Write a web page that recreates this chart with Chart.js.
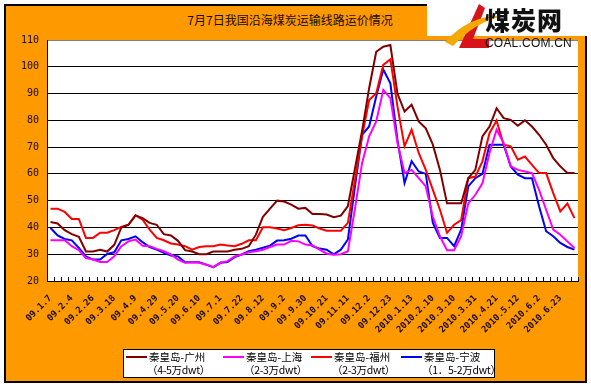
<!DOCTYPE html>
<html><head><meta charset="utf-8">
<script src="https://cdn.jsdelivr.net/npm/chart.js@4/dist/chart.umd.min.js"></script>
<style>
html,body{margin:0;padding:0;background:#fff;}
#wrap{position:relative;width:591px;height:386px;overflow:hidden;background:#fff;font-family:"Noto Sans CJK SC",sans-serif;}
#panel{position:absolute;left:4px;top:4px;width:583px;height:379px;box-sizing:border-box;border:2px solid #000;background:#FF9900;}
#title{position:absolute;left:140px;width:300px;top:11px;text-align:center;font-size:12px;color:#1a0a00;}
#logo{position:absolute;left:427px;top:0;width:164px;height:36px;background:#fff;z-index:2;}
#logo .cn{position:absolute;left:58px;top:4px;font-size:25px;font-weight:900;color:#111;letter-spacing:1px;line-height:30px;}
#logo .en{position:absolute;left:58px;top:36px;font-size:12px;font-family:"Liberation Sans",Arial,sans-serif;color:#111;line-height:14px;letter-spacing:0.2px;}
#c{position:absolute;left:0;top:0;z-index:1;}
#legend{position:absolute;left:123px;top:349px;width:372px;height:29px;box-sizing:border-box;background:#fff;border:1px solid #000;z-index:2;}
.li{position:absolute;top:0;font-size:10.5px;line-height:13px;color:#000;white-space:nowrap;}
.li .ln{position:absolute;top:6px;height:2px;width:21px;}
.li .t1{position:absolute;top:0;}
.li .t2{position:absolute;top:13px;letter-spacing:-0.3px;}
</style></head>
<body>
<div id="wrap">
  <div id="panel"></div>
  <div id="title">7月7日我国沿海煤炭运输线路运价情况</div>
  <canvas id="c" width="591" height="386"></canvas>
  <div id="logo">
    <svg width="60" height="52" style="position:absolute;left:16px;top:2px;overflow:visible" viewBox="0 0 60 52">
      <path d="M36 2 L16 46 L46 46 L46 37 L30 37 L42 6 Z" fill="#d7141a"/>
      <path d="M2 40 Q28 12 60 14 Q32 20 10 44 Z" fill="#f5a800"/>
    </svg>
    <div class="cn">煤炭网</div>
    <div class="en">COAL.COM.CN</div>
  </div>
  <div id="legend"></div>
</div>
<script>
const categories = ["09.1.7","09.1.14","09.1.21","09.2.4","09.2.11","09.2.18","09.2.26","09.3.4","09.3.11","09.3.18",
"09.3.25","09.4.1","09.4.9","09.4.15","09.4.22","09.4.29","09.5.6","09.5.13","09.5.20","09.5.27",
"09.6.3","09.6.10","09.6.17","09.6.24","09.7.1","09.7.8","09.7.15","09.7.22","09.7.29","09.8.5",
"09.8.12","09.8.19","09.8.26","09.9.2","09.9.9","09.9.16","09.9.30","09.10.9","09.10.14","09.10.21",
"09.10.28","09.11.4","09.11.11","09.11.18","09.11.25","09.12.2","09.12.9","09.12.16","09.12.23","09.12.30",
"2010.1.6","2010.1.13","2010.1.20","2010.1.27","2010.2.10","2010.2.24","2010.3.3","2010.3.10","2010.3.17","2010.3.24",
"2010.3.31","2010.4.7","2010.4.14","2010.4.21","2010.4.28","2010.5.5","2010.5.12","2010.5.19","2010.5.26","2010.6.2",
"2010.6.9","2010.6.16","2010.6.23","2010.6.30","2010.7.7"];

const qhdGuangzhou = [42,41.5,39,37.5,36.5,31,31,31.7,31,33.5,
40,41,44.5,43.5,41.7,41,37.5,37,35,31.5,
31,30,30,31,31,31,31.7,32,33,37.3,
44,47,50,49.7,48.5,47,47.3,45,45,44.8,
43.8,44.4,48,62,76,92,105.6,107.5,108.1,90,
83.3,85.8,79.6,77,70.9,61.5,49,49,49,58.4,
61.5,74,77.7,84.5,80.8,80.2,78,80,77.7,74.6,
70.9,65.9,62.8,60.3,60.3];

const qhdShanghai = [35.2,35.2,35.2,33,31.5,28.6,28,27.1,27.1,29.2,
33,34.8,35.5,33.2,33,32,31.1,29.9,28,26.8,
27,26.8,26.1,25.2,26.8,27.4,29.2,29.9,30.7,31.1,
31.7,32.7,33.6,33.6,35,34.8,33.6,33.3,31.7,30.2,
29.8,30,31.1,47,64,74,79.6,91.4,88.3,71.5,
60.3,61.5,58.4,55.3,44,36.7,31.5,31.5,36.7,49,
52.2,56.5,67.8,76.5,71.5,62.8,61.5,60.9,60.3,54,
46.6,39.2,37.3,34.8,32.3];

const qhdFuzhou = [47,47,45.8,43.2,43.2,36.1,36.1,38,38,39,
40.2,41,44.5,42.9,39.2,36.1,35.2,34,33.6,33,
31.7,32.7,33,33,33.6,33.3,33,33.9,35.2,35.2,
40.1,40.1,39.6,39,39.8,40.8,41,40.7,39.6,38.8,
38.8,38.8,41.7,57.8,74,87.6,90.1,100.7,102.8,85.2,
70.3,76.5,67.8,61.5,54,46.6,38,41,42.7,58.4,
59,64.7,75.2,79.9,70.9,70.3,65.3,66.5,63.4,60.3,
60.3,52.8,46,48.9,43.5];

const qhdNingbo = [39.8,37,35.7,35.2,32.4,29.2,28,28,30.1,30.7,
35.2,35.7,36.7,34.5,32.7,31.7,30.5,29.5,29.2,27,
27,27,26.1,25.2,26.8,27.1,28.9,29.9,31.1,31.7,
32.4,33.2,35.1,35.2,35.8,37,37,33,32.1,31.7,
30,31.7,35.5,55.3,74.6,77.7,88.9,99,93.8,72.7,
56.6,64.7,60.9,60,41.7,36.1,36.1,33,39.2,55.3,
58.4,60,70.9,70.9,70.9,62.8,59.7,58.4,58.4,47.9,
38.6,36.7,34.2,32.7,31.7];

const seriesNames = ["秦皇岛-广州","秦皇岛-上海","秦皇岛-福州","秦皇岛-宁波"];
const seriesSubs = ["（4-5万dwt）","（2-3万dwt）","（2-3万dwt）","（1．5-2万dwt）"];
const seriesColors = ["#800000","#FF00FF","#FF0000","#0000FF"];
const yTicks = [20,30,40,50,60,70,80,90,100,110];

// HTML legend
const legendPos = [2, 99, 187, 277];
const lg = document.getElementById('legend');
seriesNames.forEach((n, i) => {
  const d = document.createElement('div');
  d.className = 'li';
  d.style.left = legendPos[i] + 'px';
  d.innerHTML = '<div class="ln" style="left:0;background:' + seriesColors[i] + '"></div>' +
    '<div class="t1" style="left:23px">' + n + '</div>' +
    '<div class="t2" style="left:21px">' + seriesSubs[i] + '</div>';
  lg.appendChild(d);
});

const bgPlugin = {
  id: 'bg',
  beforeDraw(chart) {
    const a = chart.chartArea, ctx = chart.ctx;
    ctx.save();
    ctx.fillStyle = '#fff';
    ctx.fillRect(a.left, a.top, a.right - a.left, a.bottom - a.top);
    ctx.restore();
  },
  afterDraw(chart) {
    const x = chart.scales.x, a = chart.chartArea, ctx = chart.ctx;
    const half = (x.getPixelForValue(1) - x.getPixelForValue(0)) / 2;
    ctx.save();
    ctx.strokeStyle = '#000';
    ctx.lineWidth = 1;
    ctx.beginPath();
    for (let i = 0; i <= categories.length; i++) {
      const px = Math.round(x.getPixelForValue(i) - half) + 0.5;
      ctx.moveTo(px, a.bottom);
      ctx.lineTo(px, a.bottom - 4);
    }
    ctx.stroke();
    ctx.restore();
  }
};

const data = [qhdGuangzhou, qhdShanghai, qhdFuzhou, qhdNingbo];
new Chart(document.getElementById('c'), {
  type: 'line',
  data: {
    labels: categories,
    datasets: data.map((d, i) => ({
      label: seriesNames[i],
      data: d,
      borderColor: seriesColors[i],
      backgroundColor: seriesColors[i],
      borderWidth: 2,
      pointRadius: 0,
      tension: 0,
      fill: false
    }))
  },
  options: {
    responsive: false,
    animation: false,
    devicePixelRatio: 1,
    layout: { padding: { top: 40, right: 13, bottom: 0, left: 0 } },
    plugins: { legend: { display: false }, tooltip: { enabled: false }, title: { display: false } },
    scales: {
      x: {
        offset: true,
        afterFit(s) { s.height = 105; },
        grid: { display: false },
        border: { display: true, color: '#000', width: 1 },
        ticks: {
          autoSkip: false,
          maxRotation: 45,
          minRotation: 45,
          padding: 4,
          color: '#1a0a00',
          font: { family: 'DejaVu Sans Mono', size: 9, weight: 'bold' },
          callback: (v, i) => (i % 3 === 0 ? categories[i] : '')
        }
      },
      y: {
        min: 20, max: 110,
        afterFit(s) { s.width = 47; },
        afterBuildTicks(s) { s.ticks = yTicks.map(v => ({ value: v })); },
        grid: {
          color: ctx => (ctx.tick && ctx.tick.value === 110 ? '#808080' : '#000'),
          lineWidth: 1,
          drawTicks: false
        },
        border: { display: true, color: '#000', width: 1 },
        ticks: {
          padding: 8,
          color: '#1a0a00',
          font: { family: 'DejaVu Sans Mono', size: 10 }
        }
      }
    }
  },
  plugins: [bgPlugin]
});
</script>
</body></html>
